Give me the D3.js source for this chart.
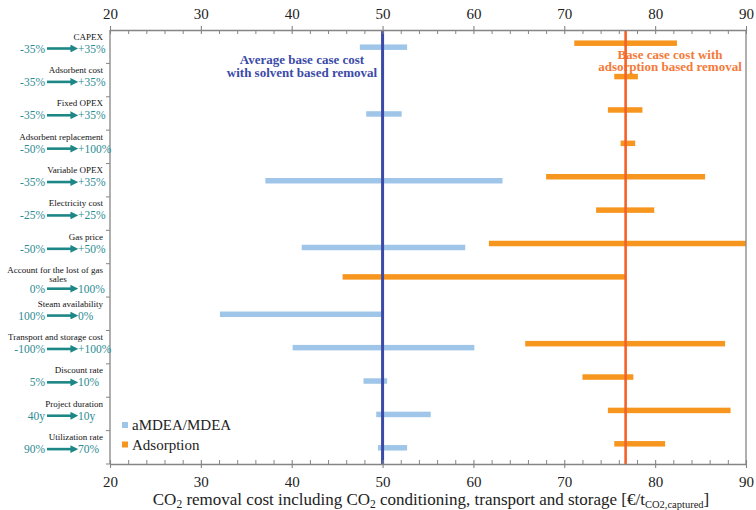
<!DOCTYPE html>
<html>
<head>
<meta charset="utf-8">
<script src="https://cdn.jsdelivr.net/npm/d3@7/dist/d3.min.js"></script>
<style>
  body { margin: 0; background: #fff; }
  svg text { font-family: "Liberation Serif", "DejaVu Serif", serif; }
</style>
</head>
<body>
<div id="chart"></div>
<script>
// parameters of the sensitivity analysis (top to bottom)
var categories = ["CAPEX", "Adsorbent cost", "Fixed OPEX", "Adsorbent replacement", "Variable OPEX",
    "Electricity cost", "Gas price", "Account for the lost of gas sales", "Steam availability",
    "Transport and storage cost", "Discount rate", "Project duration", "Utilization rate"];
var titleLines = [["CAPEX"], ["Adsorbent cost"], ["Fixed OPEX"], ["Adsorbent replacement"], ["Variable OPEX"],
    ["Electricity cost"], ["Gas price"], ["Account for the lost of gas", "sales"], ["Steam availability"],
    ["Transport and storage cost"], ["Discount rate"], ["Project duration"], ["Utilization rate"]];
var lowLabels = ["-35%", "-35%", "-35%", "-50%", "-35%", "-25%", "-50%", "0%", "100%", "-100%", "5%", "40y", "90%"];
var highLabels = ["+35%", "+35%", "+35%", "+100%", "+35%", "+25%", "+50%", "100%", "0%", "+100%", "10%", "10y", "70%"];

// aMDEA/MDEA range (null = no bar)
var mdeaLow  = [47.5, null, 48.2, null, 37.1, null, 41.1, null, 32.1, 40.1, 47.9, 49.3, 49.5];
var mdeaHigh = [52.7, null, 52.1, null, 63.2, null, 59.1, null, 49.9, 60.1, 50.5, 55.3, 52.7];
// Adsorption range
var adsLow  = [71.1, 75.5, 74.8, 76.2, 68.0, 73.5, 61.7, 45.6, null, 65.7, 72.0, 74.8, 75.5];
var adsHigh = [82.4, 78.1, 78.6, 77.8, 85.5, 79.9, 90.0, 76.7, null, 87.7, 77.6, 88.3, 81.1];

var baseMdea = 50.0;
var baseAds = 76.75;

var xTicks = [20, 30, 40, 50, 60, 70, 80, 90];
var xMinor = [22, 24, 26, 28, 32, 34, 36, 38, 42, 44, 46, 48, 52, 54, 56, 58,
    62, 64, 66, 68, 72, 74, 76, 78, 82, 84, 86, 88];

var width = 756, height = 510;
var plotL = 110, plotR = 746, plotT = 30, plotB = 464;
var axisColor = "#858585";
var blueBar = "#9fc6e8", orangeBar = "#f7961f";
var blueLine = "#3b4aa8", orangeLine = "#f4622a";
var teal = "#2b8b92";

var svg = d3.select("#chart").append("svg")
    .attr("width", width)
    .attr("height", height);

var x = d3.scaleLinear().domain([20, 90]).range([plotL, plotR]);
var y = d3.scaleBand().domain(categories).range([plotT, plotB]);

// annotations (drawn before the base lines, the lines cross them)
function note(lines, cx, y0, dy, color) {
    lines.forEach(function(t, k) {
        svg.append("text")
            .attr("x", cx).attr("y", y0 + k * dy)
            .attr("text-anchor", "middle")
            .attr("fill", color)
            .attr("font-weight", "bold")
            .attr("font-size", "13px")
            .text(t);
    });
}
note(["Average base case cost", "with solvent based removal"], 302, 64, 13, blueLine);
note(["Base case cost with", "adsorption based removal"], 670, 59, 12, "#f47a3a");

// bars
var barH = 5.5;
var rows = categories.map(function(c, i) {
    return { cat: c, mLow: mdeaLow[i], mHigh: mdeaHigh[i], aLow: adsLow[i], aHigh: adsHigh[i] };
});

svg.selectAll(".bar-ads")
    .data(rows.filter(function(d) { return d.aLow != null; }))
    .enter().append("rect")
    .attr("class", "bar-ads")
    .attr("x", function(d) { return x(d.aLow); })
    .attr("width", function(d) { return x(d.aHigh) - x(d.aLow); })
    .attr("y", function(d) { return y(d.cat) + y.bandwidth() / 2 - 3.5 - barH / 2; })
    .attr("height", barH)
    .attr("fill", orangeBar);

svg.selectAll(".bar-mdea")
    .data(rows.filter(function(d) { return d.mLow != null; }))
    .enter().append("rect")
    .attr("class", "bar-mdea")
    .attr("x", function(d) { return x(d.mLow); })
    .attr("width", function(d) { return x(d.mHigh) - x(d.mLow); })
    .attr("y", function(d) { return y(d.cat) + y.bandwidth() / 2 + 0.5 - barH / 2; })
    .attr("height", barH)
    .attr("fill", blueBar);

// base case lines
svg.append("line")
    .attr("x1", x(baseMdea)).attr("x2", x(baseMdea))
    .attr("y1", plotT).attr("y2", plotB)
    .attr("stroke", blueLine).attr("stroke-width", 3);
svg.append("line")
    .attr("x1", x(baseAds)).attr("x2", x(baseAds))
    .attr("y1", plotT).attr("y2", plotB)
    .attr("stroke", orangeLine).attr("stroke-width", 2.6);

// axes
function styleAxis(g) {
    g.select(".domain").attr("stroke", axisColor).attr("stroke-width", 1.3);
    g.selectAll(".tick line").attr("stroke", axisColor).attr("stroke-width", 1.1);
    g.selectAll(".tick text").attr("fill", "#222").attr("font-size", "15px")
        .attr("font-family", "Liberation Serif, serif");
}

var topAxis = svg.append("g")
    .attr("transform", "translate(0," + plotT + ")")
    .call(d3.axisTop(x).tickValues(xTicks).tickSize(4).tickSizeOuter(0).tickPadding(7).tickFormat(d3.format("d")));
topAxis.selectAll(".tick line").attr("y1", 4).attr("y2", -4);
styleAxis(topAxis);
svg.append("g")
    .attr("transform", "translate(0," + plotT + ")")
    .call(d3.axisBottom(x).tickValues(xMinor).tickSize(4).tickFormat(""))
    .call(function(g) { g.select(".domain").remove(); g.selectAll("line").attr("stroke", axisColor); });

var bottomAxis = svg.append("g")
    .attr("transform", "translate(0," + plotB + ")")
    .call(d3.axisBottom(x).tickValues(xTicks).tickSize(4).tickSizeOuter(0).tickPadding(8).tickFormat(d3.format("d")));
bottomAxis.selectAll(".tick line").attr("y1", -4).attr("y2", 4);
styleAxis(bottomAxis);
svg.append("g")
    .attr("transform", "translate(0," + plotB + ")")
    .call(d3.axisTop(x).tickValues(xMinor).tickSize(4).tickFormat(""))
    .call(function(g) { g.select(".domain").remove(); g.selectAll("line").attr("stroke", axisColor); });

// left axis and right frame
svg.append("line")
    .attr("x1", plotL).attr("x2", plotL).attr("y1", plotT).attr("y2", plotB)
    .attr("stroke", axisColor).attr("stroke-width", 1.3);
svg.append("line")
    .attr("x1", plotR).attr("x2", plotR).attr("y1", plotT).attr("y2", plotB)
    .attr("stroke", axisColor).attr("stroke-width", 1.3);
svg.selectAll(".ytick")
    .data(categories.slice(1).map(function(c) { return y(c); }).concat([plotB]))
    .enter().append("line")
    .attr("class", "ytick")
    .attr("x1", plotL - 4).attr("x2", plotL)
    .attr("y1", function(d) { return d; }).attr("y2", function(d) { return d; })
    .attr("stroke", axisColor);

// category labels with arrows
svg.append("defs").append("marker")
    .attr("id", "arrowhead")
    .attr("viewBox", "0 0 10 10")
    .attr("refX", 2).attr("refY", 5)
    .attr("markerWidth", 3).attr("markerHeight", 3)
    .attr("orient", "auto")
    .append("path")
    .attr("d", "M0,0 L10,5 L0,10 z")
    .attr("fill", "#1d8686");

var labels = svg.selectAll(".cat-label")
    .data(categories)
    .enter().append("g")
    .attr("class", "cat-label")
    .attr("transform", function(d) { return "translate(0," + y(d) + ")"; });

labels.each(function(d, i) {
    var g = d3.select(this);
    var lines = titleLines[i];
    lines.forEach(function(t, k) {
        g.append("text")
            .attr("x", k === 0 ? 103 : 58)
            .attr("y", 9.5 + k * 8.5)
            .attr("text-anchor", k === 0 ? "end" : "middle")
            .attr("font-size", "9px")
            .attr("fill", "#111")
            .text(t);
    });
    var ry = 22.5 + (lines.length - 1) * 6.5;
    g.append("text")
        .attr("x", 45).attr("y", ry)
        .attr("text-anchor", "end")
        .attr("font-size", "11.5px")
        .attr("fill", teal)
        .text(lowLabels[i]);
    g.append("line")
        .attr("x1", 47).attr("x2", 72)
        .attr("y1", ry - 4).attr("y2", ry - 4)
        .attr("stroke", "#1d8686")
        .attr("stroke-width", 2.6)
        .attr("marker-end", "url(#arrowhead)");
    g.append("text")
        .attr("x", 78).attr("y", ry)
        .attr("text-anchor", "start")
        .attr("font-size", "11.5px")
        .attr("fill", teal)
        .text(highLabels[i]);
});

// legend
var legend = svg.append("g").attr("transform", "translate(122,422)");
var legendItems = [["aMDEA/MDEA", blueBar], ["Adsorption", orangeBar]];
legendItems.forEach(function(item, i) {
    legend.append("rect")
        .attr("x", 0).attr("y", i * 19.5)
        .attr("width", 6).attr("height", 6)
        .attr("fill", item[1]);
    legend.append("text")
        .attr("x", 10).attr("y", i * 19.5 + 8)
        .attr("font-size", "15px")
        .attr("fill", "#222")
        .text(item[0]);
});

// x-axis title
var xTitle = svg.append("text")
    .attr("x", 431).attr("y", 505)
    .attr("text-anchor", "middle")
    .attr("font-size", "17px")
    .attr("fill", "#222");
xTitle.append("tspan").text("CO");
xTitle.append("tspan").attr("font-size", "11.5px").attr("dy", 3).text("2");
xTitle.append("tspan").attr("dy", -3).text(" removal cost including CO");
xTitle.append("tspan").attr("font-size", "11.5px").attr("dy", 3).text("2");
xTitle.append("tspan").attr("dy", -3).text(" conditioning, transport and storage [€/t");
xTitle.append("tspan").attr("font-size", "10.5px").attr("dy", 3).text("CO2,captured");
xTitle.append("tspan").attr("dy", -3).text("]");
</script>
</body>
</html>
